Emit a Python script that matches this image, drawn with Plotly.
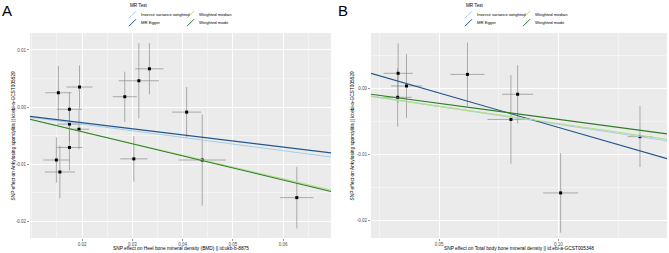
import plotly.graph_objects as go

# ---------------- Data: panel A ----------------
a_x = [0.0153, 0.0175, 0.0195, 0.0175, 0.0194, 0.0175, 0.0149, 0.0156,
       0.0285, 0.0313, 0.0334, 0.0303, 0.0408, 0.0439, 0.0627]
a_y = [0.0025, -0.0004, 0.0035, -0.0030, -0.0039, -0.0071, -0.0093, -0.0114,
       0.0018, 0.0046, 0.0067, -0.0091, -0.0009, -0.0093, -0.0159]
a_se_x = [0.0026, 0.0025, 0.0026, 0.0025, 0.0020, 0.0026, 0.0026, 0.0030,
          0.0024, 0.0040, 0.0028, 0.0027, 0.0029, 0.0047, 0.0033]
a_se_y = [0.0047, 0.0030, 0.0038, 0.0030, 0.0035, 0.0040, 0.0040, 0.0046,
          0.0044, 0.0066, 0.0045, 0.0040, 0.0044, 0.0080, 0.0054]

# ---------------- Data: panel B ----------------
b_x = [0.0329, 0.0364, 0.0327, 0.0619, 0.0801, 0.0829, 0.1009, 0.1341]
b_y = [0.00226, 0.00035, -0.00136, 0.0021, -0.0047, -0.0009, -0.0158, -0.0073]
b_se_x = [0.0061, 0.0065, 0.0059, 0.0071, 0.0098, 0.0065, 0.0073, 0.0052]
b_se_y = [0.0045, 0.0048, 0.0044, 0.0048, 0.0067, 0.0044, 0.0060, 0.0046]

# MR method lines: (intercept, slope)
methods = ["Inverse variance weighted", "MR Egger", "Weighted median", "Weighted mode"]
colors = ["#a6cee3", "#24568c", "#b2df8a", "#2f7d2a"]
a_intercepts = [-0.00067, -0.00062, -0.00020, -0.00010]
a_slopes = [-0.1166, -0.1070, -0.2070, -0.2120]
b_intercepts = [0.00000, 0.00449, -0.00010, 0.00013]
b_slopes = [-0.0545, -0.1040, -0.0523, -0.0482]

# Axis settings
a_xrange = [0.00966, 0.0695]
a_yrange = [-0.02298, 0.01298]
b_xrange = [0.02155, 0.1454]
b_yrange = [-0.02261, 0.00835]
a_xticks = [0.02, 0.03, 0.04, 0.05, 0.06]
a_xticktext = ["0.02", "0.03", "0.04", "0.05", "0.06"]
a_yticks = [0.01, 0.0, -0.01, -0.02]
a_yticktext = ["0.01", "0.00", "-0.01", "-0.02"]
b_xticks = [0.05, 0.10]
b_xticktext = ["0.05", "0.10"]
b_yticks = [0.0, -0.01, -0.02]
b_yticktext = ["0.00", "-0.01", "-0.02"]

a_xtitle = "SNP effect on Heel bone mineral density (BMD) || id:ukb-b-8875"
b_xtitle = "SNP effect on Total body bone mineral density || id:ebi-a-GCST005348"
ytitle = "SNP effect on Ankylosing spondylitis || id:ebi-a-GCST005529"

W, H = 669, 253
FONT = "Liberation Sans, Arial, sans-serif"

fig = go.Figure()


def add_panel(xs, ys, sex, sey, inters, slopes, xr, xa, ya):
    fig.add_trace(go.Scatter(
        x=xs, y=ys, mode="markers",
        marker=dict(color="black", size=3, symbol="square"),
        error_x=dict(type="data", array=sex, visible=True, color="#8c8c8c", thickness=0.7, width=0),
        error_y=dict(type="data", array=sey, visible=True, color="#8c8c8c", thickness=0.7, width=0),
        xaxis=xa, yaxis=ya, showlegend=False, hoverinfo="skip"))
    for m, c, b0, b1 in zip(methods, colors, inters, slopes):
        fig.add_trace(go.Scatter(
            x=xr, y=[b0 + b1 * xr[0], b0 + b1 * xr[1]], mode="lines",
            line=dict(color=c, width=1.1), name=m,
            xaxis=xa, yaxis=ya, showlegend=False, hoverinfo="skip"))


add_panel(a_x, a_y, a_se_x, a_se_y, a_intercepts, a_slopes, a_xrange, "x", "y")
add_panel(b_x, b_y, b_se_x, b_se_y, b_intercepts, b_slopes, b_xrange, "x2", "y2")

ydom = [1 - 238 / H, 1 - 33 / H]
axis_common = dict(
    showgrid=True, gridcolor="white", gridwidth=0.9, zeroline=False, automargin=False,
    showline=False, ticks="outside", ticklen=2, tickwidth=0.6, tickcolor="#4d4d4d",
    tickfont=dict(size=4.5, color="#4d4d4d", family=FONT),
)


def minor(d):
    return dict(showgrid=True, gridcolor="white", gridwidth=0.4, dtick=d, tick0=d)


fig.update_layout(
    width=W, height=H, margin=dict(l=0, r=0, t=0, b=0),
    paper_bgcolor="white", plot_bgcolor="#ebebeb", showlegend=False,
    font=dict(family=FONT),
    xaxis=dict(domain=[30 / W, 331 / W], range=a_xrange, tickvals=a_xticks, ticktext=a_xticktext,
               anchor="y", minor=minor(0.005), **axis_common),
    yaxis=dict(domain=ydom, range=a_yrange, tickvals=a_yticks, ticktext=a_yticktext,
               anchor="x", minor=minor(0.005), **axis_common),
    xaxis2=dict(domain=[371 / W, 667 / W], range=b_xrange, tickvals=b_xticks, ticktext=b_xticktext,
                anchor="y2", minor=minor(0.025), **axis_common),
    yaxis2=dict(domain=ydom, range=b_yrange, tickvals=b_yticks, ticktext=b_yticktext,
                anchor="x2", minor=minor(0.005), **axis_common),
)

# Axis titles
title_font = dict(size=4.8, color="black", family=FONT)
for txt, cx in [(a_xtitle, (30 + 331) / 2), (b_xtitle, (371 + 667) / 2)]:
    fig.add_annotation(text=txt, x=cx / W, y=1 - 248 / H, xref="paper", yref="paper",
                       xanchor="center", yanchor="middle", showarrow=False, font=title_font)
for cx in [13, 352]:
    fig.add_annotation(text=ytitle, x=cx / W, y=1 - 135.5 / H, xref="paper", yref="paper",
                       xanchor="center", yanchor="middle", showarrow=False, textangle=-90,
                       font=title_font)

# Panel labels
for lab, px in [("A", 0), ("B", 336)]:
    fig.add_annotation(text=lab, x=px / W, y=1 - 0 / H, xref="paper", yref="paper",
                       xanchor="left", yanchor="top", showarrow=False,
                       font=dict(size=15, color="black", family=FONT))


# Custom legends (ggplot-style diagonal keys)
def add_legend(x0):
    fig.add_annotation(text="MR Test", x=x0 / W, y=1 - 6 / H, xref="paper", yref="paper",
                       xanchor="left", yanchor="middle", showarrow=False,
                       font=dict(size=4.6, color="black", family=FONT))
    pos = [(x0 + 1, 14.7), (x0 + 1, 22.7), (x0 + 59, 14.7), (x0 + 59, 22.7)]
    for (kx, ky), m, c in zip(pos, methods, colors):
        fig.add_shape(type="line", xref="paper", yref="paper",
                      x0=kx / W, y0=1 - (ky + 3.5) / H, x1=(kx + 7) / W, y1=1 - (ky - 3.5) / H,
                      line=dict(color=c, width=1.0))
        fig.add_annotation(text=m, x=(kx + 10) / W, y=1 - ky / H, xref="paper", yref="paper",
                           xanchor="left", yanchor="middle", showarrow=False,
                           font=dict(size=4.2, color="black", family=FONT))


add_legend(128)
add_legend(464)

fig.write_html("out.html", config={"displayModeBar": False, "staticPlot": True},
               post_script="document.body.style.margin='0';document.body.style.overflow='hidden';")
